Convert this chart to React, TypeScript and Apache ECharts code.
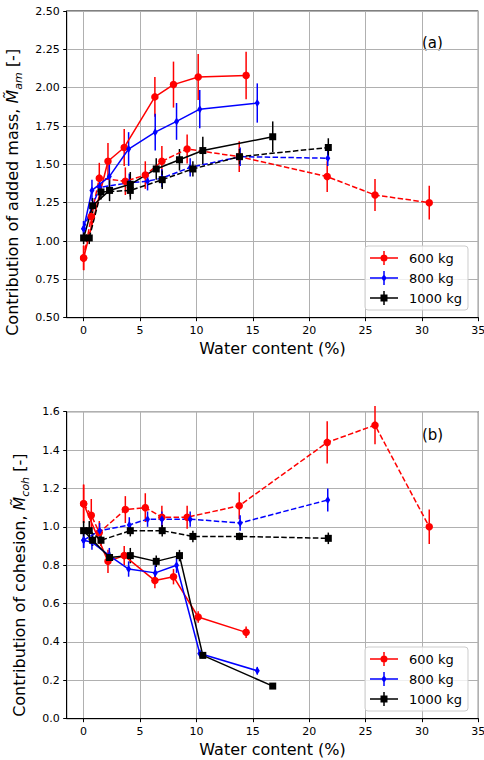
import React, { useEffect, useRef } from "react";
import * as echarts from "echarts";

// ---------- data ----------
const massLabels = ["600 kg", "800 kg", "1000 kg"];
const xTickValues = [0, 5, 10, 15, 20, 25, 30, 35];

// 600 kg
const xRedSolid = [0, 2.16, 3.6, 6.32, 7.97, 10.16, 14.41];
const amRedSolid = [0.89, 1.52, 1.61, 1.94, 2.02, 2.07, 2.08];
const amRedSolidErr = [0.08, 0.12, 0.12, 0.13, 0.15, 0.15, 0.155];
const cohRedSolid = [1.12, 0.82, 0.85, 0.72, 0.74, 0.53, 0.45];
const cohRedSolidErr = [0.1, 0.06, 0.05, 0.04, 0.04, 0.03, 0.03];

const xRedDashed = [0, 0.68, 1.39, 3.7, 5.47, 6.94, 9.18, 13.8, 21.6, 25.84, 30.65];
const amRedDashed = [0.89, 1.16, 1.41, 1.39, 1.43, 1.52, 1.6, 1.55, 1.42, 1.3, 1.25];
const amRedDashedErr = [0.08, 0.08, 0.1, 0.09, 0.09, 0.1, 0.095, 0.1, 0.1, 0.105, 0.11];
const cohRedDashed = [1.12, 1.06, 0.97, 1.09, 1.1, 1.05, 1.05, 1.11, 1.44, 1.53, 1.0];
const cohRedDashedErr = [0.1, 0.085, 0.06, 0.07, 0.075, 0.06, 0.06, 0.07, 0.11, 0.1, 0.09];

// 800 kg
const xBlueSolid = [0, 0.74, 2.28, 3.99, 6.35, 8.24, 10.3, 15.4];
const amBlueSolid = [1.08, 1.33, 1.42, 1.6, 1.71, 1.78, 1.86, 1.9];
const amBlueSolidErr = [0.05, 0.07, 0.1, 0.11, 0.12, 0.12, 0.125, 0.128];
const cohBlueSolid = [0.93, 0.92, 0.85, 0.78, 0.76, 0.8, 0.34, 0.25];
const cohBlueSolidErr = [0.04, 0.04, 0.04, 0.04, 0.04, 0.04, 0.02, 0.02];

const xBlueDashed = [0, 1.42, 4.05, 5.67, 6.94, 9.45, 13.88, 21.65];
const amBlueDashed = [1.08, 1.35, 1.38, 1.39, 1.41, 1.48, 1.55, 1.54];
const amBlueDashedErr = [0.05, 0.06, 0.06, 0.06, 0.06, 0.06, 0.06, 0.05];
const cohBlueDashed = [0.93, 0.98, 1.01, 1.04, 1.04, 1.04, 1.02, 1.14];
const cohBlueDashedErr = [0.04, 0.04, 0.04, 0.04, 0.04, 0.04, 0.04, 0.06];

// 1000 kg
const xBlackSolid = [0, 0.8, 2.3, 4.14, 6.44, 8.5, 10.57, 16.77];
const amBlackSolid = [1.02, 1.23, 1.33, 1.37, 1.47, 1.53, 1.59, 1.68];
const amBlackSolidErr = [0.04, 0.05, 0.07, 0.08, 0.07, 0.07, 0.09, 0.1];
const cohBlackSolid = [0.98, 0.93, 0.84, 0.85, 0.82, 0.85, 0.33, 0.17];
const cohBlackSolidErr = [0.05, 0.03, 0.03, 0.04, 0.03, 0.03, 0.015, 0.01];

const xBlackDashed = [0.5, 1.54, 4.14, 6.97, 9.69, 13.82, 21.7];
const amBlackDashed = [1.02, 1.32, 1.33, 1.4, 1.47, 1.55, 1.61];
const amBlackDashedErr = [0.04, 0.05, 0.06, 0.06, 0.05, 0.05, 0.06];
const cohBlackDashed = [0.98, 0.93, 0.98, 0.98, 0.95, 0.95, 0.94];
const cohBlackDashedErr = [0.05, 0.03, 0.03, 0.03, 0.03, 0.02, 0.03];

// ---------- styling ----------
const FONT = "DejaVu Sans";
const RED = "#ff0000";
const BLUE = "#0000ff";
const BLACK = "#000000";
const DIAMOND = "path://M0,-4L2.5,0L0,4L-2.5,0Z";

const ICON_LINE = "M0,6.25h28v1.5h-28z";
const ICON_BAR = "M13.25,0h1.5v14h-1.5z";
const ICON_CIRCLE = "M10.5,7a3.5,3.5 0 1,1 7,0a3.5,3.5 0 1,1 -7,0z";
const ICON_DIAMOND = "M14,3L16.6,7L14,11L11.4,7z";
const ICON_SQUARE = "M10.5,3.5h7v7h-7z";
const legendIcons = [
  "path://" + ICON_LINE + ICON_BAR + ICON_CIRCLE,
  "path://" + ICON_LINE + ICON_BAR + ICON_DIAMOND,
  "path://" + ICON_LINE + ICON_BAR + ICON_SQUARE,
];

function zip2(xs: number[], ys: number[]) {
  return xs.map((x, i) => [x, ys[i]]);
}
function zip3(xs: number[], ys: number[], es: number[]) {
  return xs.map((x, i) => [x, ys[i], es[i]]);
}

function lineSeries(
  name: string,
  xs: number[],
  ys: number[],
  color: string,
  symbol: string,
  symbolSize: any,
  dashed: boolean,
  idx: number
) {
  return {
    type: "line",
    name,
    xAxisIndex: idx,
    yAxisIndex: idx,
    data: zip2(xs, ys),
    symbol,
    symbolSize,
    symbolKeepAspect: false,
    showSymbol: true,
    itemStyle: { color, borderWidth: 0 },
    lineStyle: { color, width: 1.5, type: dashed ? [5.5, 2.4] : "solid" },
    emphasis: { disabled: true },
    clip: false,
    z: 3,
  };
}

function errSeries(name: string, xs: number[], ys: number[], es: number[], color: string, idx: number) {
  return {
    type: "custom",
    name,
    xAxisIndex: idx,
    yAxisIndex: idx,
    coordinateSystem: "cartesian2d",
    data: zip3(xs, ys, es),
    encode: { x: 0, y: 1 },
    clip: false,
    silent: true,
    z: 3,
    renderItem: (params: any, api: any) => {
      const x = api.value(0);
      const y = api.value(1);
      const e = api.value(2);
      const p1 = api.coord([x, y - e]);
      const p2 = api.coord([x, y + e]);
      return {
        type: "line",
        shape: { x1: p1[0], y1: p1[1], x2: p2[0], y2: p2[1] },
        style: { stroke: color, lineWidth: 1.5 },
      };
    },
  };
}

function buildPanel(idx: number, vals: any) {
  const out: any[] = [];
  const groups = [
    { color: RED, symbol: "circle", size: 7.5, label: massLabels[0], s: vals.red },
    { color: BLUE, symbol: DIAMOND, size: [5, 8], label: massLabels[1], s: vals.blue },
    { color: BLACK, symbol: "rect", size: 7, label: massLabels[2], s: vals.black },
  ];
  groups.forEach((g) => {
    out.push(errSeries(g.label + " err", g.s.xs, g.s.ys, g.s.es, g.color, idx));
    out.push(lineSeries(g.label, g.s.xs, g.s.ys, g.color, g.symbol, g.size, false, idx));
    out.push(errSeries(g.label + " err2", g.s.xd, g.s.yd, g.s.ed, g.color, idx));
    out.push(lineSeries(g.label, g.s.xd, g.s.yd, g.color, g.symbol, g.size, true, idx));
  });
  return out;
}

function xAxisDef(idx: number) {
  return {
    type: "value",
    gridIndex: idx,
    min: -1.5,
    max: 35,
    name: "Water content (%)",
    nameLocation: "middle",
    nameGap: 23,
    nameTextStyle: { fontFamily: FONT, fontSize: 16, color: "#000" },
    axisLine: { show: true, onZero: false, lineStyle: { color: "#000", width: 1 } },
    axisTick: { show: true, length: 3.5, lineStyle: { color: "#000", width: 1 }, customValues: xTickValues },
    axisLabel: {
      fontFamily: FONT,
      fontSize: 11,
      color: "#000",
      margin: 7,
      customValues: xTickValues,
      formatter: (v: number) => String(v),
    },
    splitLine: { show: true, lineStyle: { color: "#b0b0b0", width: 1 } },
  };
}

function yAxisDef(idx: number, min: number, max: number, interval: number, digits: number, name: string, shift: number) {
  return {
    type: "value",
    gridIndex: idx,
    min,
    max,
    interval,
    name,
    nameLocation: "middle",
    nameRotate: 90,
    nameGap: 26,
    nameTextStyle: {
      fontFamily: FONT,
      fontSize: 16,
      color: "#000",
      rich: {
        t: { fontFamily: FONT, fontSize: 16, color: "#000", lineHeight: 24 },
        m: { fontFamily: FONT, fontSize: 16, fontStyle: "italic", color: "#000", lineHeight: 24 },
        s: { fontFamily: FONT, fontSize: 11, fontStyle: "italic", color: "#000", lineHeight: 14, verticalAlign: "bottom" },
        e: { fontFamily: FONT, fontSize: 16, color: "#000", lineHeight: 24, padding: [0, shift, 0, 0] },
      },
    },
    axisLine: { show: true, onZero: false, lineStyle: { color: "#000", width: 1 } },
    axisTick: { show: true, length: 3.5, lineStyle: { color: "#000", width: 1 } },
    axisLabel: {
      fontFamily: FONT,
      fontSize: 11,
      color: "#000",
      margin: 7,
      formatter: (v: number) => v.toFixed(digits),
    },
    splitLine: { show: true, lineStyle: { color: "#b0b0b0", width: 1 } },
  };
}

function legendDef(top: number) {
  return {
    data: massLabels.map((n, i) => ({ name: n, icon: legendIcons[i] })),
    orient: "vertical",
    left: 365,
    top,
    itemWidth: 28,
    itemHeight: 14,
    itemGap: 6,
    selectedMode: false,
    itemStyle: { borderWidth: 0 },
    textStyle: { fontFamily: FONT, fontSize: 13, color: "#000", padding: [0, 0, 0, 6] },
    backgroundColor: "rgba(255,255,255,0.8)",
    borderColor: "#cccccc",
    borderWidth: 1,
    borderRadius: 3,
    padding: [5, 6, 5, 5],
  };
}

function gridDef(top: number, height: number) {
  return {
    left: 66.7,
    right: 5.7,
    top,
    height,
    show: true,
    borderColor: "#000",
    borderWidth: 1,
    backgroundColor: "transparent",
    containLabel: false,
    outerBoundsMode: "none",
  };
}

export default function App() {
  const ref = useRef<HTMLDivElement>(null);
  useEffect(() => {
    if (!ref.current) return;
    const chart = echarts.init(ref.current, null, { renderer: "svg" });
    const topVals = {
      red: { xs: xRedSolid, ys: amRedSolid, es: amRedSolidErr, xd: xRedDashed, yd: amRedDashed, ed: amRedDashedErr },
      blue: { xs: xBlueSolid, ys: amBlueSolid, es: amBlueSolidErr, xd: xBlueDashed, yd: amBlueDashed, ed: amBlueDashedErr },
      black: { xs: xBlackSolid, ys: amBlackSolid, es: amBlackSolidErr, xd: xBlackDashed, yd: amBlackDashed, ed: amBlackDashedErr },
    };
    const botVals = {
      red: { xs: xRedSolid, ys: cohRedSolid, es: cohRedSolidErr, xd: xRedDashed, yd: cohRedDashed, ed: cohRedDashedErr },
      blue: { xs: xBlueSolid, ys: cohBlueSolid, es: cohBlueSolidErr, xd: xBlueDashed, yd: cohBlueDashed, ed: cohBlueDashedErr },
      black: { xs: xBlackSolid, ys: cohBlackSolid, es: cohBlackSolidErr, xd: xBlackDashed, yd: cohBlackDashed, ed: cohBlackDashedErr },
    };
    chart.setOption({
      animation: false,
      backgroundColor: "#ffffff",
      grid: [gridDef(11, 306.7), gridDef(411.7, 307)],
      xAxis: [xAxisDef(0), xAxisDef(1)],
      yAxis: [
        yAxisDef(0, 0.5, 2.5, 0.25, 2, "{t|Contribution of added mass, }{m|M\u0303}{s|am}{e| [-]}", 56),
        yAxisDef(1, 0, 1.6, 0.2, 1, "{t|Contribution of cohesion, }{m|M\u0303}{s|coh}{e| [-]}", 40),
      ],
      legend: [legendDef(246), legendDef(647)],
      graphic: [
        { type: "text", left: 422, top: 35, style: { text: "(a)", fontFamily: FONT, fontSize: 15, fill: "#000" } },
        { type: "text", left: 422, top: 427, style: { text: "(b)", fontFamily: FONT, fontSize: 15, fill: "#000" } },
      ],
      series: [...buildPanel(0, topVals), ...buildPanel(1, botVals)],
    });
    return () => chart.dispose();
  }, []);
  return <div ref={ref} style={{ position: "absolute", left: 0, top: 0, width: 484, height: 760 }} />;
}
